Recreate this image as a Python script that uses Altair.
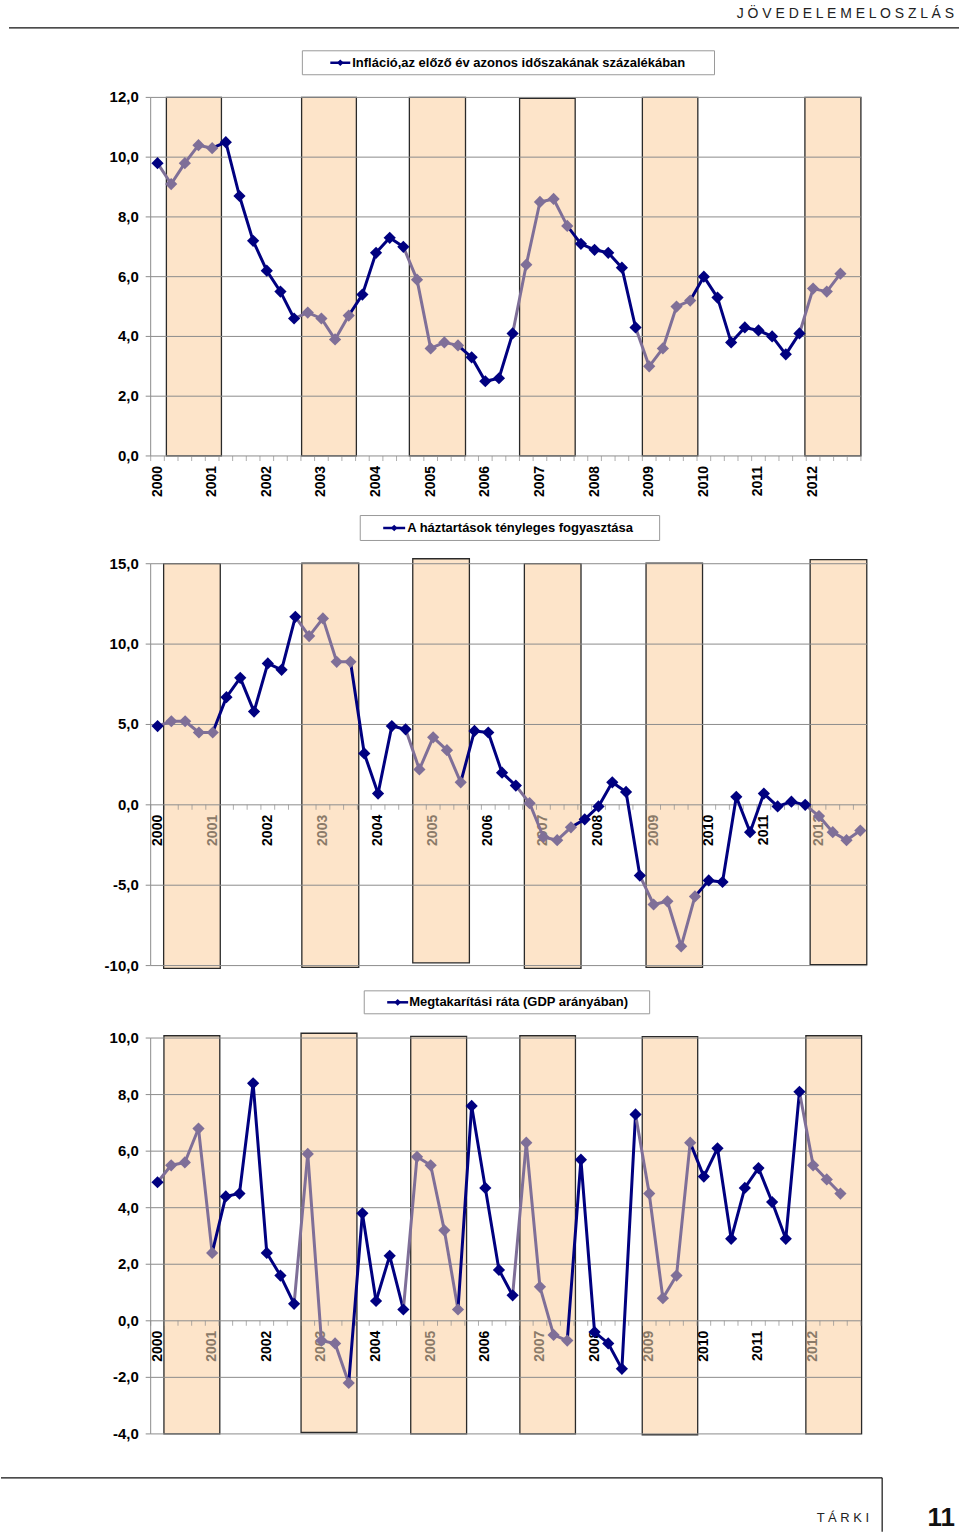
import altair as alt
import pandas as pd

FONT = "Liberation Sans, Arial, Helvetica, sans-serif"
NAVY = "#000080"
PURPLE = "#7F6F98"
PEACH = "#FDE4C9"
BAR_EDGE = "#2a2a2a"
GRID = "#8c8c8c"
LABEL_GREY = "#8A7A68"

YEARS = [str(y) for y in range(2000, 2013)]

# quarterly series, 2000Q1 ...
INFLACIO = [9.8, 9.1, 9.8, 10.4, 10.3, 10.5, 8.7, 7.2, 6.2, 5.5,
            4.6, 4.8, 4.6, 3.9, 4.7, 5.4, 6.8, 7.3, 7.0, 5.9,
            3.6, 3.8, 3.7, 3.3, 2.5, 2.6, 4.1, 6.4, 8.5, 8.6,
            7.7, 7.1, 6.9, 6.8, 6.3, 4.3, 3.0, 3.6, 5.0, 5.2,
            6.0, 5.3, 3.8, 4.3, 4.2, 4.0, 3.4, 4.1, 5.6, 5.5, 6.1]

FOGYASZTAS = [4.9, 5.2, 5.2, 4.5, 4.5, 6.7, 7.9, 5.8, 8.8, 8.4,
              11.7, 10.5, 11.6, 8.9, 8.9, 3.2, 0.7, 4.9, 4.7, 2.2,
              4.2, 3.4, 1.4, 4.6, 4.5, 2.0, 1.2, 0.1, -2.0, -2.2,
              -1.4, -0.9, -0.1, 1.4, 0.8, -4.4, -6.2, -6.0, -8.8, -5.7,
              -4.7, -4.8, 0.5, -1.7, 0.7, -0.1, 0.2, 0.0, -0.7, -1.7,
              -2.2, -1.6]

MEGTAKARITAS = [4.9, 5.5, 5.6, 6.8, 2.4, 4.4, 4.5, 8.4, 2.4, 1.6,
                0.6, 5.9, -0.7, -0.8, -2.2, 3.8, 0.7, 2.3, 0.4, 5.8,
                5.5, 3.2, 0.4, 7.6, 4.7, 1.8, 0.9, 6.3, 1.2, -0.5,
                -0.7, 5.7, -0.4, -0.8, -1.7, 7.3, 4.5, 0.8, 1.6, 6.3,
                5.1, 6.1, 2.9, 4.7, 5.4, 4.2, 2.9, 8.1, 5.5, 5.0, 4.5]

# shaded blocks, in quarter-index units / value units
INF_BAR_X0 = [0.65, 10.55, 18.44, 26.51, 35.50, 47.40]
INF_BAR_X1 = [4.68, 14.56, 22.55, 30.58, 39.56, 51.50]
INF_BAR_Y0 = [0, 0, 0, 0, 0, 0]
INF_BAR_Y1 = [12, 12, 12, 11.97, 12, 12]

FOG_BAR_X0 = [0.44, 10.47, 18.52, 26.62, 35.45, 47.36]
FOG_BAR_X1 = [4.55, 14.60, 22.63, 30.73, 39.55, 51.47]
FOG_BAR_Y0 = [-10.17, -10.11, -9.83, -10.17, -10.11, -9.94]
FOG_BAR_Y1 = [15.0, 15.04, 15.31, 15.0, 15.04, 15.25]

MEG_BAR_X0 = [0.47, 10.51, 18.54, 26.53, 35.49, 47.47]
MEG_BAR_X1 = [4.56, 14.60, 22.63, 30.60, 39.55, 51.55]
MEG_BAR_Y0 = [-4.0, -3.95, -4.0, -4.0, -4.03, -4.0]
MEG_BAR_Y1 = [10.08, 10.17, 10.06, 10.08, 10.05, 10.08]

INF_TICKS = [0, 2, 4, 6, 8, 10, 12]
FOG_TICKS = [-10, -5, 0, 5, 10, 15]
MEG_TICKS = [-4, -2, 0, 2, 4, 6, 8, 10]

LEG1 = "Infláció,az előző év azonos időszakának százalékában"
LEG2 = "A háztartások tényleges fogyasztása"
LEG3 = "Megtakarítási ráta (GDP arányában)"


def panel(values, bx0, bx1, by0, by1, ydom, yticks, width, height, top_pad,
          legend, box, grey_labels, extras):
    n = len(values)
    xs = alt.Scale(domain=[-0.5, 51.5], nice=False, zero=False)
    ys = alt.Scale(domain=ydom, nice=False, zero=False, range=[height, top_pad])

    def shaded(i):
        return any(a <= i <= b for a, b in zip(bx0, bx1))

    pts = pd.DataFrame({"q": list(range(n)), "v": values,
                        "g": ["s" if shaded(i) else "n" for i in range(n)]})
    segs = pd.DataFrame({"q0": list(range(n - 1)), "q1": list(range(1, n)),
                         "v0": values[:-1], "v1": values[1:],
                         "g": list(pts["g"])[1:]})
    bars = pd.DataFrame({"x0": bx0, "x1": bx1, "y0": by0, "y1": by1})
    grid = pd.DataFrame({"t": yticks,
                         "lab": [f"{t:.1f}".replace(".", ",") for t in yticks]})
    dom = pd.DataFrame({"lo": [ydom[0]], "hi": [ydom[1]]})
    qt = pd.DataFrame({"b": [k - 0.5 for k in range(53)], "z": [0] * 53})
    lpos = [4 * i for i in range(len(YEARS))]
    labs = pd.DataFrame({"q": lpos, "lab": YEARS, "z": [0] * len(lpos),
                         "c": ["g" if (grey_labels and shaded(p)) else "k" for p in lpos]})

    X = lambda f: alt.X(f, type="quantitative", scale=xs, axis=None)
    Y = lambda f: alt.Y(f, type="quantitative", scale=ys, axis=None)

    bars_l = alt.Chart(bars).mark_rect(fill=PEACH, stroke=BAR_EDGE, strokeWidth=1.3).encode(
        x=X("x0"), x2="x1", y=Y("y0"), y2="y1")
    grid_l = alt.Chart(grid).mark_rule(color=GRID, strokeWidth=1).encode(
        y=Y("t"), x=alt.value(0), x2=alt.value(width))
    ytick_l = alt.Chart(grid).mark_rule(color=GRID, strokeWidth=1).encode(
        y=Y("t"), x=alt.value(-5), x2=alt.value(0))
    ylab_l = alt.Chart(grid).mark_text(align="right", baseline="middle", font=FONT,
                                       fontSize=15, fontWeight="bold", color="black").encode(
        y=Y("t"), x=alt.value(-12), text="lab:N")
    ydom_l = alt.Chart(dom).mark_rule(color=GRID, strokeWidth=1).encode(
        y=Y("lo"), y2="hi", x=alt.value(0))
    ticks_l = alt.Chart(qt).mark_tick(orient="vertical", size=5, thickness=1,
                                      color=GRID, yOffset=2.5).encode(x=X("b"), y=Y("z"))
    labs_l = alt.Chart(labs).mark_text(angle=270, align="right", baseline="middle", dx=-10,
                                       font=FONT, fontSize=14, fontWeight="bold").encode(
        x=X("q"), y=Y("z"), text="lab:N",
        color=alt.condition("datum.c == 'g'", alt.value(LABEL_GREY), alt.value("black")))
    col = alt.condition("datum.g == 's'", alt.value(PURPLE), alt.value(NAVY))
    seg_l = alt.Chart(segs).mark_rule(strokeWidth=3, strokeCap="round").encode(
        x=X("q0"), x2="q1", y=Y("v0"), y2="v1", color=col)
    pts_l = alt.Chart(pts).mark_point(shape="diamond", filled=True, size=150, opacity=1).encode(
        x=X("q"), y=Y("v"), color=col)

    bx_a, bx_b, by_a, by_b, sx_a, sx_b, tx = box
    by_a += top_pad
    by_b += top_pad
    ymid = (by_a + by_b) / 2
    one = pd.DataFrame({"t": [legend]})
    leg_box = alt.Chart(one).mark_rect(fill="white", stroke="#9a9a9a", strokeWidth=1).encode(
        x=alt.value(bx_a), x2=alt.value(bx_b), y=alt.value(by_a), y2=alt.value(by_b))
    leg_line = alt.Chart(one).mark_rule(color=NAVY, strokeWidth=2.5).encode(
        x=alt.value(sx_a), x2=alt.value(sx_b), y=alt.value(ymid), y2=alt.value(ymid))
    leg_pt = alt.Chart(one).mark_point(shape="diamond", filled=True, size=45, color=NAVY,
                                       opacity=1).encode(
        x=alt.value((sx_a + sx_b) / 2), y=alt.value(ymid))
    leg_txt = alt.Chart(one).mark_text(align="left", baseline="middle", font=FONT,
                                       fontSize=13, fontWeight="bold", color="black").encode(
        x=alt.value(tx), y=alt.value(ymid), text="t:N")

    layers = [bars_l, grid_l, ytick_l, ylab_l, ydom_l, ticks_l, labs_l, seg_l, pts_l,
              leg_box, leg_line, leg_pt, leg_txt] + extras
    return alt.layer(*layers).properties(width=width, height=height)


hdr = pd.DataFrame({"t": ["J Ö V E D E L E M E L O S Z L Á S"]})
header = [
    alt.Chart(hdr).mark_rule(color="white", strokeWidth=1).encode(
        x=alt.value(0), x2=alt.value(4), y=alt.value(-95.2), y2=alt.value(-95.2)),
    alt.Chart(hdr).mark_text(align="right", baseline="middle", font=FONT, fontSize=14,
                             color="#222222").encode(
        x=alt.value(805), y=alt.value(-83.7), text="t:N"),
    alt.Chart(hdr).mark_rule(color="#111111", strokeWidth=1.3).encode(
        x=alt.value(-142), x2=alt.value(810), y=alt.value(-69.7), y2=alt.value(-69.7)),
]

ftr = pd.DataFrame({"t": ["T Á R K I"], "p": ["11"]})
footer = [
    alt.Chart(ftr).mark_rule(color="#111111", strokeWidth=1.2).encode(
        x=alt.value(-150), x2=alt.value(733), y=alt.value(440.7), y2=alt.value(440.7)),
    alt.Chart(ftr).mark_rule(color="#111111", strokeWidth=1.2).encode(
        x=alt.value(733), x2=alt.value(733), y=alt.value(440.7), y2=alt.value(494.7)),
    alt.Chart(ftr).mark_text(align="right", baseline="middle", font=FONT, fontSize=13,
                             color="#222222").encode(
        x=alt.value(720), y=alt.value(480.7), text="t:N"),
    alt.Chart(ftr).mark_text(align="right", baseline="middle", font=FONT, fontSize=26,
                             fontWeight="bold", color="#111111").encode(
        x=alt.value(806), y=alt.value(480.7), text="p:N"),
]

c1 = panel(INFLACIO, INF_BAR_X0, INF_BAR_X1, INF_BAR_Y0, INF_BAR_Y1, [0, 12], INF_TICKS,
           711.7, 359.3, 0, LEG1, (152, 565, -46.7, -22.7, 180, 200, 202), False, header)
c2 = panel(FOGYASZTAS, FOG_BAR_X0, FOG_BAR_X1, FOG_BAR_Y0, FOG_BAR_Y1, [-10, 15], FOG_TICKS,
           718, 437.7, 35, LEG2, (210, 510, -48.3, -23.3, 233, 255, 257), True, [])
c3 = panel(MEGTAKARITAS, MEG_BAR_X0, MEG_BAR_X1, MEG_BAR_Y0, MEG_BAR_Y1, [-4, 10], MEG_TICKS,
           711.7, 396.7, 0, LEG3, (214, 500, -47.3, -24.3, 237, 258, 259), True, footer)

chart = alt.vconcat(c1, c2, c3, spacing=72.3, bounds="flush").properties(
    padding=0, background="white").configure_view(stroke=None)

chart.save("out.html", embed_options={"renderer": "svg", "actions": False})
